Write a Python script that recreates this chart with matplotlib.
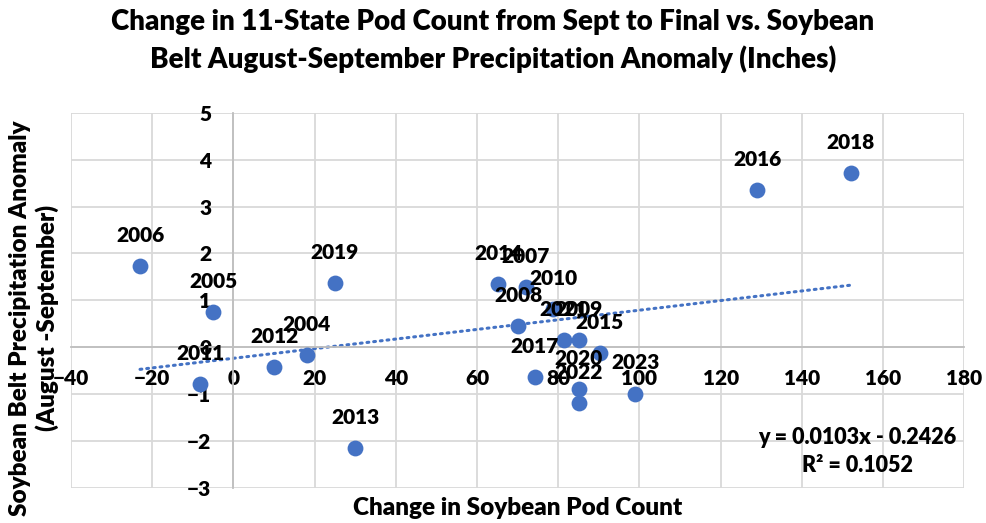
import numpy as np
import matplotlib.pyplot as plt

plt.rcParams['font.family'] = ['Lato', 'DejaVu Sans']
plt.rcParams['font.weight'] = 'bold'

years = ['2006', '2005', '2011', '2012', '2004', '2019', '2013', '2014', '2007',
         '2008', '2010', '2021', '2009', '2017', '2015', '2020', '2022', '2023',
         '2016', '2018']
pod_change = [-23, -5, -8.2, 10, 18, 25, 30, 65.2, 72, 70.1, 78.7, 81.4, 85,
              74.2, 90.2, 85, 85, 99, 129, 152]
precip_anom = [1.73, 0.75, -0.79, -0.43, -0.17, 1.37, -2.16, 1.34, 1.29, 0.45,
               0.81, 0.15, 0.15, -0.63, -0.12, -0.9, -1.2, -0.99, 3.35, 3.72]

blue = '#4472C4'
grid = '#D9D9D9'

fig = plt.figure(figsize=(9.86, 5.23), dpi=100)
ax = fig.add_axes([0.072, 0.0675, 0.906, 0.7165])

x = np.array(pod_change)
y = np.array(precip_anom)
ax.scatter(x, y, s=130, color=blue, zorder=3, linewidths=0)

# linear trendline over the data range
m, b = np.polyfit(x, y, 1)
xs = np.array([x.min(), x.max()])
ax.plot(xs, m * xs + b, color=blue, lw=2.2, ls=(0, (0.6, 1.6)),
        dash_capstyle='round', zorder=2)

for yr, xi, yi in zip(years, x, y):
    ax.annotate(yr, (xi, yi), xytext=(0, 22), textcoords='offset points',
                ha='center', va='center', fontsize=15, fontweight='heavy',
                zorder=4)

ax.set_xlim(-40, 180)
ax.set_ylim(-3, 5)
ax.set_xticks(np.arange(-40, 181, 20))
ax.set_yticks(np.arange(-3, 6, 1))
ax.grid(True, color=grid, lw=1.3)
ax.set_axisbelow(True)

for s in ['top', 'right']:
    ax.spines[s].set_visible(False)
for s in ['bottom', 'left']:
    ax.spines[s].set_position(('data', 0))
    ax.spines[s].set_color('#BFBFBF')
    ax.spines[s].set_linewidth(1.3)
ax.tick_params(axis='both', length=0, labelsize=15, pad=16)
for lbl in ax.get_xticklabels() + ax.get_yticklabels():
    lbl.set_fontweight('heavy')

fig.text(857 / 986, 1 - 437 / 523, 'y = 0.0103x - 0.2426', ha='center',
         va='center', fontsize=15.5, fontweight='heavy')
fig.text(857 / 986, 1 - 465 / 523, 'R² = 0.1052', ha='center',
         va='center', fontsize=15.5, fontweight='heavy')

fig.text(0.5, 1 - 41 / 523,
         'Change in 11-State Pod Count from Sept to Final vs. Soybean\n'
         'Belt August-September Precipitation Anomaly (Inches)',
         ha='center', va='center', fontsize=20, fontweight='heavy',
         linespacing=1.5)
fig.text(518 / 986, 1 - 508 / 523, 'Change in Soybean Pod Count',
         ha='center', va='center', fontsize=17.5, fontweight='heavy')
fig.text(34 / 986, 1 - 318 / 523,
         'Soybean Belt Precipitation Anomaly\n(August -September)',
         ha='center', va='center', rotation=90, fontsize=17.5,
         fontweight='heavy', linespacing=1.2)

fig.savefig('out.png', dpi=100)
